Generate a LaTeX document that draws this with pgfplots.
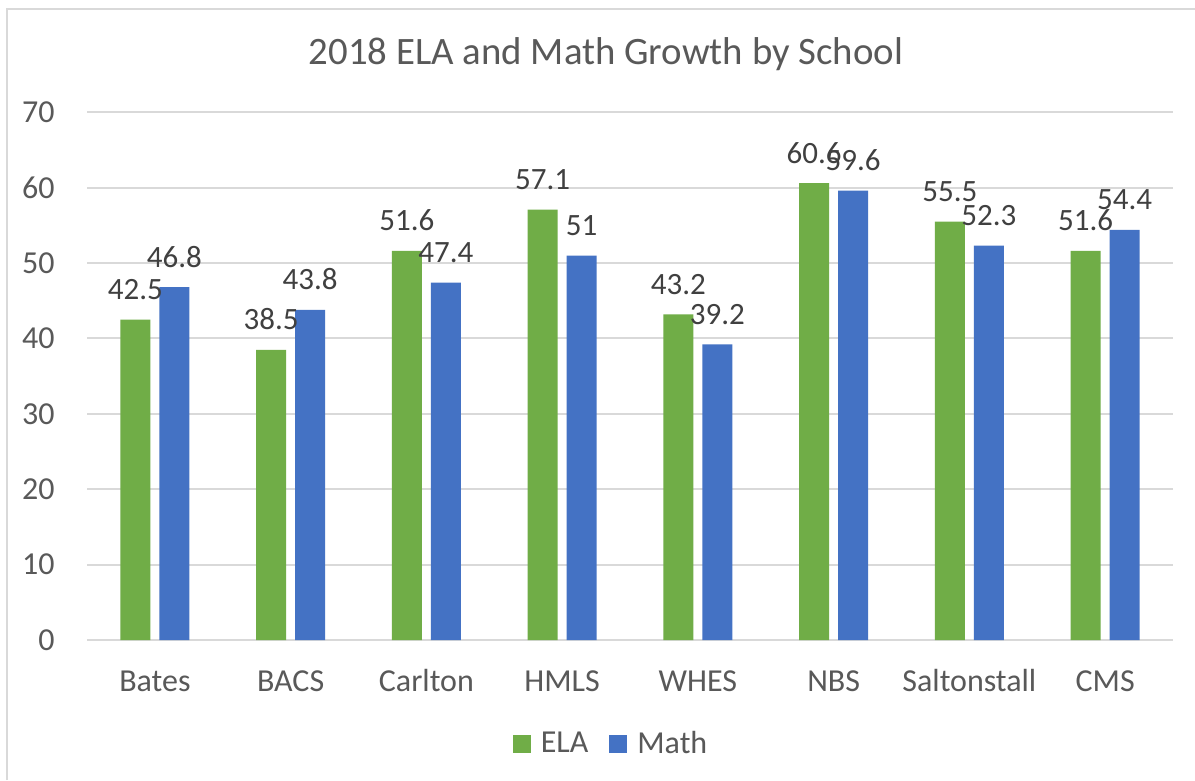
\documentclass[border=0pt]{standalone}
\usepackage{fontspec}
\setmainfont{Carlito}
\usepackage{pgfplots}
\pgfplotsset{compat=1.18}
\usetikzlibrary{backgrounds}
\definecolor{elagreen}{HTML}{70AD47}
\definecolor{mathblue}{HTML}{4472C4}
\definecolor{gridgray}{HTML}{D9D9D9}
\definecolor{txtgray}{HTML}{595959}
\definecolor{lblgray}{HTML}{404040}
\begin{document}
\begin{tikzpicture}
  \begin{axis}[
    anchor=south west,
    scale only axis,
    width=543bp, height=263.85bp,
    /pgf/number format/assume math mode=true,
    ybar=4.5bp, bar width=15bp,
    xmin=-0.5, xmax=7.5,
    ymin=0, ymax=70,
    ytick={0,10,...,70},
    xtick=data,
    xticklabels={Bates,BACS,Carlton,HMLS,WHES,NBS,Saltonstall,CMS},
    axis line style={draw=none},
    major tick length=0pt,
    ymajorgrids,
    grid style={gridgray, line width=1bp},
    tick label style={text=txtgray, font=\fontsize{16bp}{19bp}\selectfont, inner sep=0pt},
    yticklabel style={anchor=east, xshift=-16bp},
    xticklabel style={anchor=base, yshift=-25.5bp},
    clip=false,
    nodes near coords,
    every node near coord/.append style={anchor=base, inner sep=0pt, yshift=10bp,
      text=lblgray, font=\fontsize{15.5bp}{18bp}\selectfont},
    legend columns=-1,
    legend image code/.code={\fill[#1] (0bp,-4.5bp) rectangle (9bp,4.5bp);},
    legend style={draw=none, fill=none, at={(axis description cs:0.4816,-0.197)}, anchor=center,
      inner sep=0pt, text=txtgray, font=\fontsize{16bp}{19bp}\selectfont,
      nodes={inner sep=0pt},
      /tikz/every odd column/.append style={column sep=5bp},
      /tikz/every even column/.append style={column sep=10.5bp}},
    ]
    \addplot[draw=none, fill=elagreen] coordinates {
      (0,42.5) (1,38.5) (2,51.6) (3,57.1) (4,43.2) (5,60.6) (6,55.5) (7,51.6)};
    \addplot[draw=none, fill=mathblue] coordinates {
      (0,46.8) (1,43.8) (2,47.4) (3,51) (4,39.2) (5,59.6) (6,52.3) (7,54.4)};
    \legend{ELA,Math}
  \end{axis}
  % page and frame, in reference pixels (1px = 0.5bp) from the plot area's lower left corner
  \begin{scope}[shift={(current axis.south west)}, x=0.5bp, y=0.5bp]
    \pgfresetboundingbox
    \path[use as bounding box] (-87,-140) rectangle (1108,640);
    \begin{scope}[on background layer]
      \fill[white] (-87,-140) rectangle (1108,640);
    \end{scope}
    \draw[gridgray, line width=1bp] (-80,-140) -- (-80,631) -- (1108,631);
    \node[anchor=base, text=txtgray, font=\fontsize{19.4bp}{23bp}\selectfont] at (519,575)
      {2018 ELA and Math Growth by School};
  \end{scope}
\end{tikzpicture}
\end{document}
